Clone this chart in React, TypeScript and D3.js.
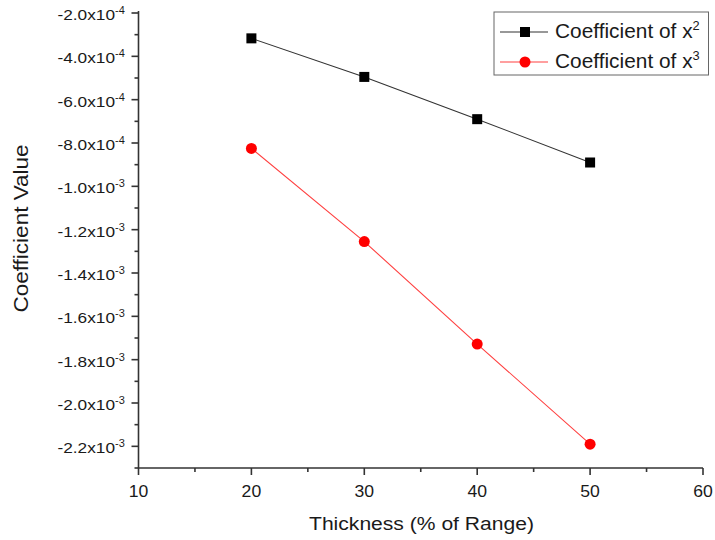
import React from "react";
import * as d3 from "d3";

const thickness = [20, 30, 40, 50];
const coefX2 = [-3.17e-4, -4.95e-4, -6.9e-4, -8.9e-4];
const coefX3 = [-8.25e-4, -1.255e-3, -1.728e-3, -2.19e-3];
const xTicks = [10, 20, 30, 40, 50, 60];
const xMinorTicks = [15, 25, 35, 45, 55];
const yTicks = [-2.0e-4, -4.0e-4, -6.0e-4, -8.0e-4, -1.0e-3, -1.2e-3, -1.4e-3, -1.6e-3, -1.8e-3, -2.0e-3, -2.2e-3];
const yMinorTicks = [-3e-4, -5e-4, -7e-4, -9e-4, -1.1e-3, -1.3e-3, -1.5e-3, -1.7e-3, -1.9e-3, -2.1e-3, -2.3e-3];
const seriesNames = ["Coefficient of x", "Coefficient of x"];
const seriesPowers = ["2", "3"];

const W = 715;
const H = 540;
const left = 138.5;
const right = 703;
const top = 13;
const bottom = 468;
const axisColor = "#333";
const textColor = "#1a1a1a";
const font = "Liberation Sans, Arial, sans-serif";

function sci(v: number) {
  const e = Math.floor(Math.log10(Math.abs(v)) + 1e-9);
  const m = v / Math.pow(10, e);
  return { mant: m.toFixed(1), exp: String(e) };
}

export default function App() {
  const x = d3.scaleLinear().domain([10, 60]).range([left, right]);
  const y = d3.scaleLinear().domain([-2.3e-3, -2.0e-4]).range([bottom, top]);
  const line = d3
    .line<[number, number]>()
    .x((d) => x(d[0]))
    .y((d) => y(d[1]));
  const d2: [number, number][] = thickness.map((t, i) => [t, coefX2[i]]);
  const d3pts: [number, number][] = thickness.map((t, i) => [t, coefX3[i]]);

  return (
    <svg
      width={W}
      height={H}
      style={{ position: "absolute", left: 0, top: 0, background: "#fff" }}
      fontFamily={font}
    >
      {/* data lines */}
      <path d={line(d2) || ""} fill="none" stroke="#333" strokeWidth={1.1} />
      <path d={line(d3pts) || ""} fill="none" stroke="#ff4040" strokeWidth={1.1} />
      {d2.map((p, i) => (
        <rect key={"s" + i} x={x(p[0]) - 5} y={y(p[1]) - 5} width={10} height={10} fill="#000" />
      ))}
      {d3pts.map((p, i) => (
        <circle key={"c" + i} cx={x(p[0])} cy={y(p[1])} r={5.5} fill="#ff0000" />
      ))}

      {/* axes */}
      <line x1={left} x2={left} y1={top - 2} y2={bottom} stroke={axisColor} strokeWidth={1.6} />
      <line x1={left} x2={right} y1={bottom} y2={bottom} stroke={axisColor} strokeWidth={1.6} />
      {xTicks.map((t) => (
        <g key={"xt" + t}>
          <line x1={x(t)} x2={x(t)} y1={bottom} y2={bottom + 7} stroke={axisColor} strokeWidth={1.6} />
          <text
            transform={`translate(${x(t)}, ${bottom + 29}) scale(1.1, 1)`}
            textAnchor="middle"
            fontSize={16}
            fill={textColor}
          >
            {t}
          </text>
        </g>
      ))}
      {xMinorTicks.map((t) => (
        <line key={"xm" + t} x1={x(t)} x2={x(t)} y1={bottom} y2={bottom + 4} stroke={axisColor} strokeWidth={1.6} />
      ))}
      {yTicks.map((t) => {
        const s = sci(t);
        return (
          <g key={"yt" + t}>
            <line x1={left - 7} x2={left} y1={y(t)} y2={y(t)} stroke={axisColor} strokeWidth={1.6} />
            <text
              transform={`translate(${left - 23.5}, ${y(t) + 7}) scale(1.15, 1)`}
              textAnchor="end"
              fontSize={15}
              fill={textColor}
            >
              {s.mant}x10
            </text>
            <text
              transform={`translate(${left - 23.5}, ${y(t) + 1}) scale(1.1, 1)`}
              textAnchor="start"
              fontSize={10}
              fill={textColor}
            >
              {s.exp}
            </text>
          </g>
        );
      })}
      {yMinorTicks.map((t) => (
        <line key={"ym" + t} x1={left - 4} x2={left} y1={y(t)} y2={y(t)} stroke={axisColor} strokeWidth={1.6} />
      ))}

      {/* axis titles */}
      <text
        transform="translate(421.5, 530) scale(1.14, 1)"
        textAnchor="middle"
        fontSize={18.5}
        fill={textColor}
      >
        Thickness (% of Range)
      </text>
      <text
        transform="translate(28, 228.5) rotate(-90) scale(1.1, 1)"
        textAnchor="middle"
        fontSize={20.5}
        fill={textColor}
      >
        Coefficient Value
      </text>

      {/* legend */}
      <rect x={494} y={12} width={214.5} height={63} fill="#fff" stroke="#666" strokeWidth={1} />
      {seriesNames.map((name, i) => {
        const cy = 32 + i * 30;
        return (
          <g key={"lg" + i}>
            <line x1={500} x2={548} y1={cy} y2={cy} stroke={i === 0 ? "#333" : "#ff4040"} strokeWidth={1.1} />
            {i === 0 ? (
              <rect x={520} y={cy - 5} width={10} height={10} fill="#000" />
            ) : (
              <circle cx={525} cy={cy} r={5.5} fill="#ff0000" />
            )}
            <text
              transform={`translate(555, ${cy + 5.5}) scale(1.07, 1)`}
              fontSize={19.5}
              fill={textColor}
            >
              {name}
              <tspan dy={-7.5} fontSize={12}>
                {seriesPowers[i]}
              </tspan>
            </text>
          </g>
        );
      })}
    </svg>
  );
}
